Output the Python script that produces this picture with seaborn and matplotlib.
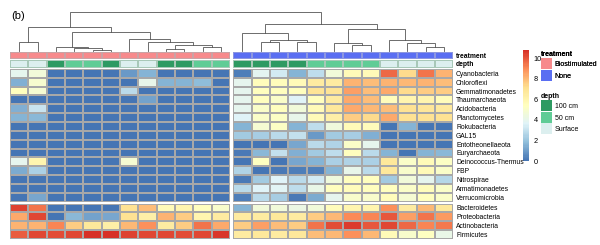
import numpy as np
import pandas as pd
import matplotlib.pyplot as plt
import seaborn as sns
from matplotlib.colors import LinearSegmentedColormap, ListedColormap
from matplotlib.patches import Patch

plt.rcParams['font.family'] = ['Liberation Sans', 'DejaVu Sans']

# ---- data ----
phyla = ["Cyanobacteria", "Chloroflexi", "Gemmatimonadetes", "Thaumarchaeota",
         "Acidobacteria", "Planctomycetes", "Rokubacteria", "GAL15",
         "Entotheonellaeota", "Euryarchaeota", "Deinococcus-Thermus", "FBP",
         "Nitrospirae", "Armatimonadetes", "Verrucomicrobia",
         "Bacteroidetes", "Proteobacteria", "Actinobacteria", "Firmicutes"]
n_rare = 15  # rows above the row gap

treatment_levels = ["Biostimulated", "None"]
treatment_colors = ["#f78a8c", "#5a6ef2"]
depth_levels = ["100 cm", "50 cm", "Surface"]
depth_colors = ["#2e9a62", "#60cc96", "#dcefef"]

depth_bio = ["Surface", "Surface", "100 cm", "50 cm", "50 cm", "100 cm",
             "Surface", "Surface", "100 cm", "100 cm", "50 cm", "50 cm"]
depth_none = ["100 cm"] * 4 + ["50 cm"] * 4 + ["Surface"] * 4

# biostimulated samples (12 columns)
bio_values = [
    [3.9, 4.6, 0, 0, 0, 0, 0.9, 1.6, 0, 0, 0, 0],
    [1.5, 4.9, 0, 0, 0, 0, 0, 4.1, 1.6, 1.6, 1.8, 0],
    [5.4, 4.8, 0, 0, 0, 0, 2.7, 0, 0, 0, 0, 0],
    [0, 0, 0, 0, 0, 0, 0, 1.1, 0, 0, 0, 0],
    [1.5, 3.1, 0, 0, 0, 0, 0, 0, 0, 0, 0, 0],
    [1.6, 1.7, 0, 0, 0, 0, 0, 0, 0, 0, 0, 0],
    [0, 0, 0, 0, 0, 0, 0, 0, 0, 0, 0, 0],
    [0, 0, 0, 0, 0, 0, 0, 0, 0, 0, 0, 0],
    [0, 0, 0, 0, 0, 0, 0, 0, 0, 0, 0, 0],
    [0, 0, 0, 0, 0, 0, 0, 0, 0, 0, 0, 0],
    [3.9, 6.0, 0, 0, 0, 0, 4.8, 0, 0, 0, 0, 0],
    [1.3, 2.4, 0, 0, 0, 0, 0, 0, 0, 0, 0, 0],
    [0, 0, 0, 0, 0, 0, 0, 0, 0, 0, 0, 0],
    [0, 0, 0, 0, 0, 0, 0, 0, 0, 0, 0, 0],
    [0, 1.2, 0, 0, 0, 0, 0, 0, 0, 0, 0, 0],
    [10.4, 9.5, 0, 0, 0, 0, 7.1, 7.9, 5.7, 6.0, 5.4, 5.0],
    [8.4, 10.3, 0, 1.7, 1.1, 1.2, 7.1, 6.3, 8.2, 7.6, 6.0, 6.5],
    [8.2, 8.2, 9.1, 7.6, 6.7, 6.3, 8.0, 8.9, 6.5, 7.6, 9.4, 8.4],
    [9.9, 10.3, 10.2, 10.3, 10.7, 10.7, 10.4, 10.3, 10.3, 10.2, 10.3, 10.6],
]

# untreated samples (12 columns)
none_values = [
    [0.3, 3.8, 3.3, 1.6, 2.9, 4.6, 5.7, 5.7, 9.7, 7.3, 9.4, 8.2],
    [3.9, 5.6, 5.6, 5.7, 6.5, 6.5, 8.2, 7.9, 8.2, 8.0, 8.2, 7.9],
    [3.9, 5.5, 5.5, 5.4, 7.0, 7.0, 8.6, 7.9, 8.4, 7.3, 7.6, 7.6],
    [3.9, 5.4, 5.1, 3.6, 5.5, 6.5, 8.4, 7.9, 5.6, 6.0, 6.0, 5.6],
    [3.9, 5.1, 5.4, 4.6, 5.7, 6.7, 8.4, 8.0, 7.9, 7.1, 6.9, 6.6],
    [3.6, 5.1, 5.2, 4.1, 5.7, 6.3, 7.6, 7.3, 8.4, 7.1, 7.1, 7.1],
    [1.6, 4.8, 5.2, 1.6, 2.9, 4.5, 5.7, 5.6, 0, 1.6, 0, 0],
    [2.2, 2.3, 2.8, 3.0, 0.9, 2.2, 2.3, 1.5, 0, 0, 0, 0],
    [0, 0.1, 0.1, 1.2, 2.8, 2.5, 5.1, 3.9, 0, 0, 0, 0],
    [0.2, 1.7, 3.0, 1.5, 2.2, 2.9, 5.4, 2.8, 1.6, 0.1, 1.6, 1.7],
    [0.1, 5.3, 0.1, 1.2, 1.6, 2.4, 2.5, 2.4, 6.8, 5.1, 5.7, 5.2],
    [2.5, 0.1, 0.2, 0.3, 0.3, 1.6, 4.0, 2.8, 6.7, 5.0, 5.7, 5.1],
    [0.2, 2.2, 3.6, 2.8, 3.3, 4.5, 5.4, 5.4, 2.2, 4.6, 3.9, 2.6],
    [2.8, 3.6, 3.7, 2.9, 4.2, 5.4, 5.6, 5.4, 5.5, 5.1, 5.6, 5.1],
    [0.3, 2.8, 2.3, 0.2, 1.4, 3.9, 5.0, 5.0, 5.6, 4.8, 5.4, 5.1],
    [1.6, 4.6, 4.6, 4.3, 4.6, 5.6, 6.0, 6.0, 8.9, 6.5, 8.0, 6.7],
    [6.5, 6.5, 6.8, 6.5, 7.6, 8.1, 9.0, 9.1, 10.0, 8.6, 9.5, 8.7],
    [7.6, 8.6, 7.9, 7.6, 9.4, 10.2, 10.5, 10.0, 10.3, 9.7, 9.1, 9.3],
    [6.5, 6.8, 6.5, 6.8, 7.9, 8.0, 8.9, 8.1, 5.7, 5.0, 5.3, 4.2],
]

# column dendrogram: (child a, child b, height); leaves 0-23, new nodes from 24
col_merges = [
    (4, 5, 1.3), (3, 24, 3.0), (2, 25, 4.6),
    (8, 9, 2.3), (10, 11, 4.6), (27, 28, 6.3), (7, 29, 9.0), (6, 30, 12.0),
    (26, 31, 19.0), (0, 1, 9.6), (33, 32, 24.6),
    (13, 14, 9.6), (15, 16, 9.6), (35, 36, 11.3), (12, 37, 18.0),
    (18, 19, 6.3), (17, 39, 8.6), (22, 23, 4.6), (21, 41, 8.0), (20, 42, 11.3),
    (40, 43, 22.0), (38, 44, 27.3), (34, 45, 39.0),
]

# ---- layout (pixels) ----
W, H = 600, 245
fig = plt.figure(figsize=(W / 100, H / 100), dpi=100)


def px_ax(x0, y0, x1, y1):
    return fig.add_axes([x0 / W, 1 - y1 / H, (x1 - x0) / W, (y1 - y0) / H])


groups_x = [(10, 230), (233.3, 453.3)]
blocks_y = [(69, 201.5), (203.5, 238.7)]
treat_y = (52, 59)
depth_y = (60.3, 67.7)

cmap = LinearSegmentedColormap.from_list(
    "rdylbu", ["#4575b4", "#91bfdb", "#e0f3f8", "#ffffbf", "#fee090", "#fc8d59", "#d73027"], N=100)
vmax = 10.8
grid_kw = dict(linewidths=0.35, linecolor="#a8a8a8")
lab_size = 4.9

group_vals = [np.array(bio_values), np.array(none_values)]
group_depth = [depth_bio, depth_none]
row_slices = [slice(0, n_rare), slice(n_rare, len(phyla))]

cax = px_ax(523.3, 50, 529.3, 161)

for g, (x0, x1) in enumerate(groups_x):
    right = g == 1
    # annotation rows
    ax = px_ax(x0, treat_y[0], x1, treat_y[1])
    codes = pd.DataFrame([[g] * 12], index=["treatment"])
    sns.heatmap(codes, ax=ax, cmap=ListedColormap(treatment_colors), vmin=-0.5, vmax=1.5,
                cbar=False, xticklabels=False, yticklabels=right, linewidths=0.3,
                linecolor="#c9a3a5" if g == 0 else "#8c96e0")
    ax = [ax]
    ax.append(px_ax(x0, depth_y[0], x1, depth_y[1]))
    codes = pd.DataFrame([[depth_levels.index(d) for d in group_depth[g]]], index=["depth"])
    sns.heatmap(codes, ax=ax[1], cmap=ListedColormap(depth_colors), vmin=-0.5, vmax=2.5,
                cbar=False, xticklabels=False, yticklabels=right, linewidths=0.3, linecolor="#a8c8b8")
    if right:
        for a in ax:
            a.yaxis.tick_right()
            a.tick_params(axis="y", length=0, pad=2, labelsize=lab_size)
            plt.setp(a.get_yticklabels(), rotation=0, fontweight="bold")

    # heatmap blocks
    for b, (y0, y1) in enumerate(blocks_y):
        hax = px_ax(x0, y0, x1, y1)
        block = pd.DataFrame(group_vals[g][row_slices[b]], index=phyla[row_slices[b]])
        draw_cbar = right and b == 0
        sns.heatmap(block, ax=hax, cmap=cmap, vmin=0, vmax=vmax, cbar=draw_cbar,
                    cbar_ax=cax if draw_cbar else None, xticklabels=False,
                    yticklabels=right, **grid_kw)
        if right:
            hax.yaxis.tick_right()
            hax.tick_params(axis="y", length=0, pad=2, labelsize=lab_size)
            plt.setp(hax.get_yticklabels(), rotation=0)

# colour bar
cax.set_yticks([0, 2, 4, 6, 8, 10])
cax.tick_params(axis="y", length=0, pad=3, labelsize=5.3)
for s in cax.spines.values():
    s.set_visible(False)

# column dendrogram
cw = (groups_x[0][1] - groups_x[0][0]) / 12
leaf_x = [groups_x[0][0] + (j + 0.5) * cw for j in range(12)] + \
         [groups_x[1][0] + (j + 0.5) * cw for j in range(12)]
node_x = list(leaf_x)
node_h = [0.0] * len(leaf_x)
dax = px_ax(groups_x[0][0], 12.3, groups_x[1][1], 51.3)
for a, b, h in col_merges:
    dax.plot([node_x[a], node_x[a], node_x[b], node_x[b]], [node_h[a], h, h, node_h[b]],
             color="#555555", lw=0.6, clip_on=False, solid_joinstyle="miter")
    node_x.append((node_x[a] + node_x[b]) / 2)
    node_h.append(h)
dax.set_xlim(groups_x[0][0], groups_x[1][1])
dax.set_ylim(0, col_merges[-1][2])
dax.axis("off")

# legends
leg_kw = dict(loc="upper left", frameon=False, fontsize=5, borderpad=0, borderaxespad=0,
              handlelength=1.6, handleheight=2.05, handletextpad=0.35, labelspacing=0.1,
              alignment="left", title_fontproperties={"weight": "bold", "size": 5})
leg1 = fig.legend(handles=[Patch(facecolor=c, label=l) for l, c in zip(treatment_levels, treatment_colors)],
                  title="treatment", bbox_to_anchor=(541 / W, 1 - 50.5 / H), **leg_kw)
fig.add_artist(leg1)
fig.legend(handles=[Patch(facecolor=c, label=l) for l, c in zip(depth_levels, depth_colors)],
           title="depth", bbox_to_anchor=(541 / W, 1 - 92.5 / H), **leg_kw)

fig.text(11 / W, 1 - 16 / H, "(b)", fontsize=8, va="center", ha="left")

fig.savefig("out.png", dpi=100)
